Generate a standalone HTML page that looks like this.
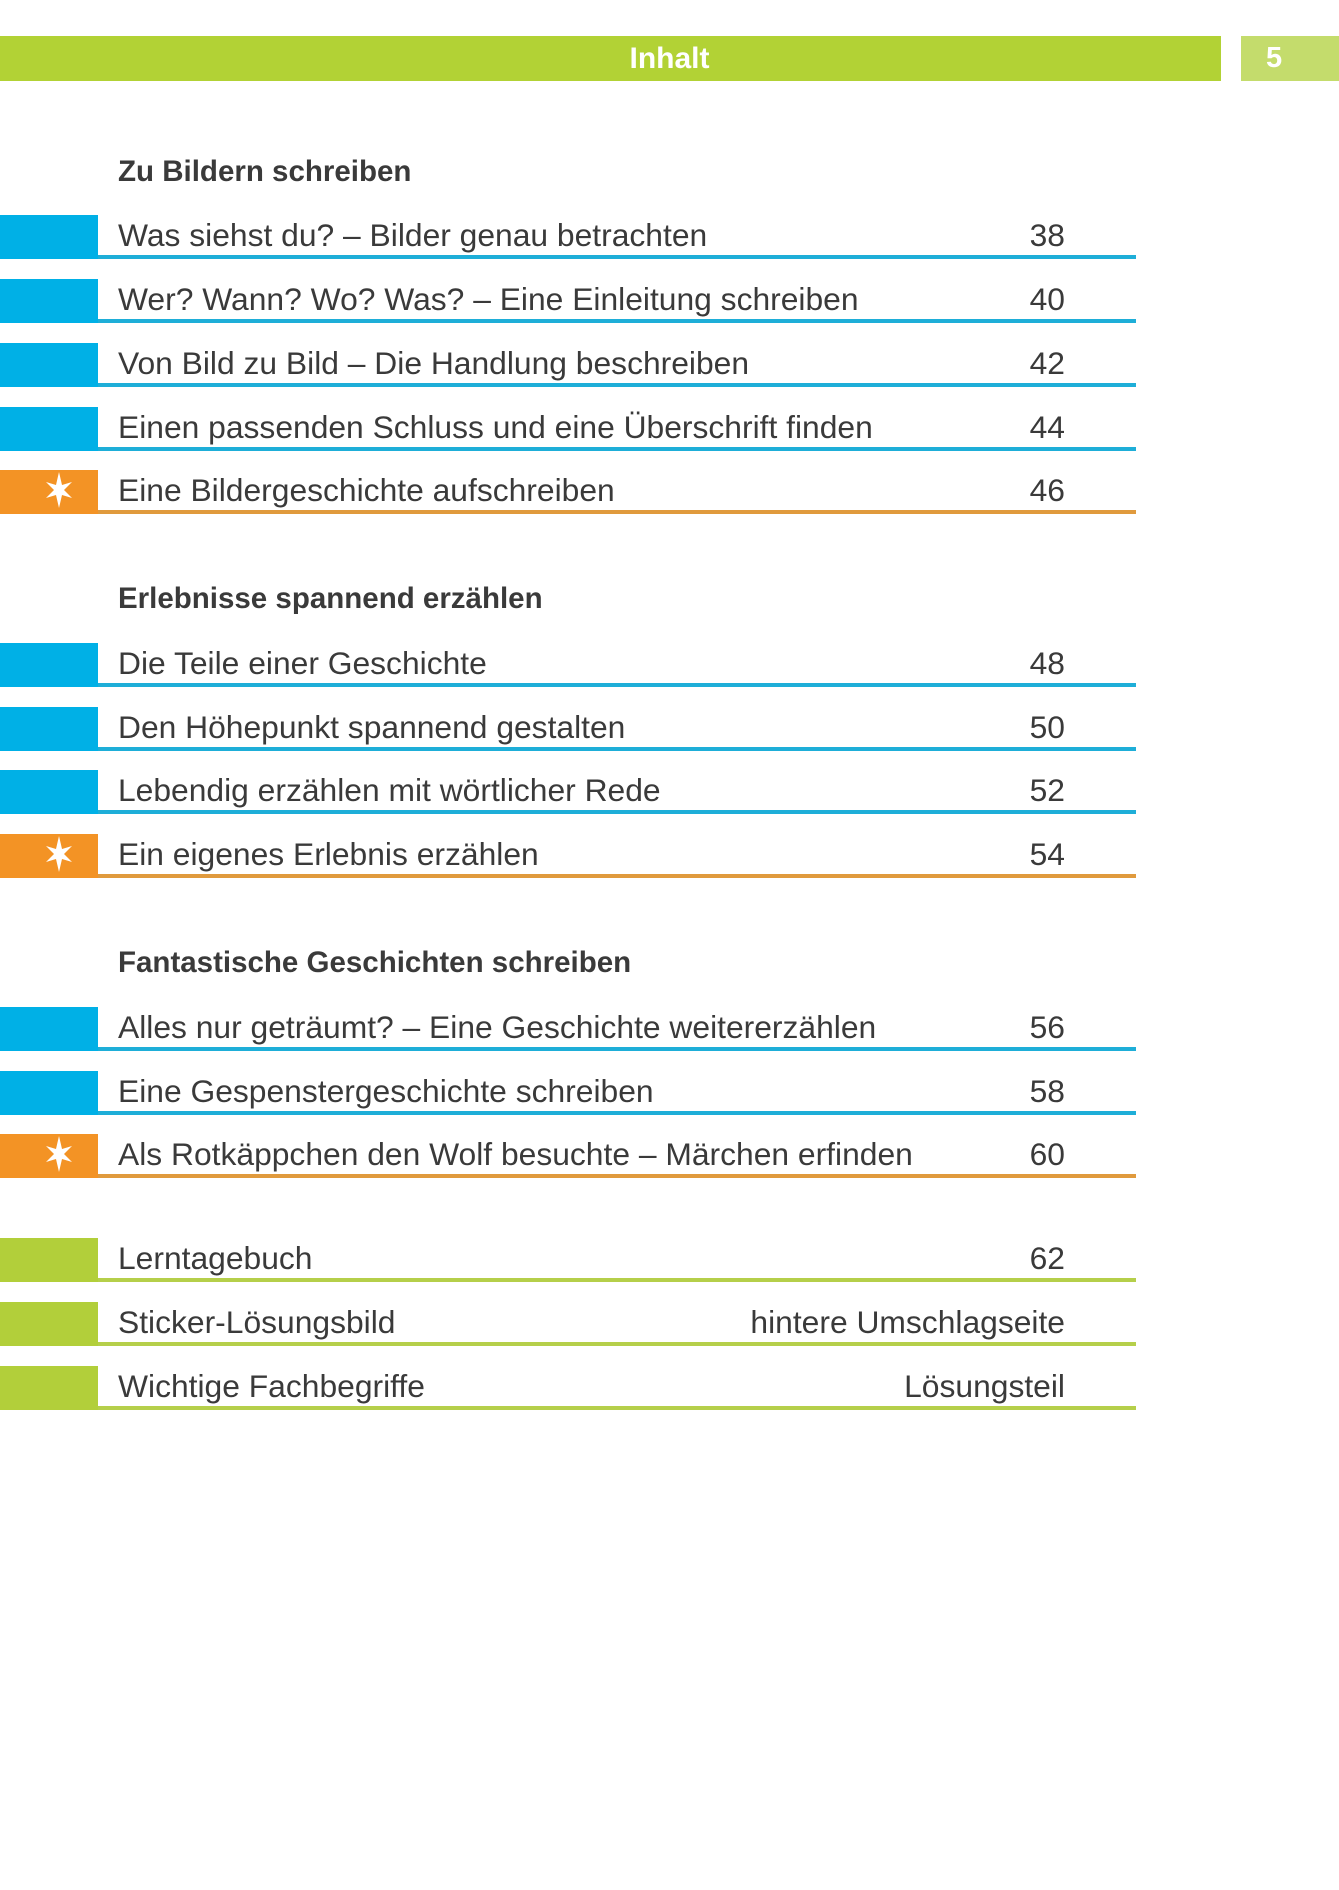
<!DOCTYPE html>
<html><head><meta charset="utf-8"><style>
body{margin:0;width:1339px;height:1890px;background:#fff;position:relative;overflow:hidden;font-family:"Liberation Sans",sans-serif;color:#3a3a3a}
.a{position:absolute}
.t{position:absolute;left:118px;font-size:31.8px;line-height:34px;white-space:nowrap}
.n{position:absolute;right:274px;font-size:31.8px;line-height:34px;white-space:nowrap}
.h{position:absolute;left:118px;font-size:29.5px;font-weight:bold;line-height:34px;white-space:nowrap}
</style></head><body>
<div class="a" style="left:0;top:36px;width:1221px;height:45px;background:#b2d235"></div>
<div class="a" style="left:0;top:36px;width:1339px;height:45px;text-align:center;color:#fff;font-weight:bold;font-size:30px;line-height:45px">Inhalt</div>
<div class="a" style="left:1241px;top:36px;width:98px;height:45px;background:#c4dc6c;color:#fff;font-weight:bold;font-size:29px;line-height:45px;text-indent:25px">5</div>
<div id="c"></div>
<script>
var rows=[
["h",172,"Zu Bildern schreiben"],
["b",235,"Was siehst du? – Bilder genau betrachten","38"],
["b",299,"Wer? Wann? Wo? Was? – Eine Einleitung schreiben","40"],
["b",363,"Von Bild zu Bild – Die Handlung beschreiben","42"],
["b",427,"Einen passenden Schluss und eine Überschrift finden","44"],
["o",490,"Eine Bildergeschichte aufschreiben","46"],
["h",599,"Erlebnisse spannend erzählen"],
["b",663,"Die Teile einer Geschichte","48"],
["b",727,"Den Höhepunkt spannend gestalten","50"],
["b",790,"Lebendig erzählen mit wörtlicher Rede","52"],
["o",854,"Ein eigenes Erlebnis erzählen","54"],
["h",963,"Fantastische Geschichten schreiben"],
["b",1027,"Alles nur geträumt? – Eine Geschichte weitererzählen","56"],
["b",1091,"Eine Gespenstergeschichte schreiben","58"],
["o",1154,"Als Rotkäppchen den Wolf besuchte – Märchen erfinden","60"],
["g",1258,"Lerntagebuch","62"],
["g",1322,"Sticker-Lösungsbild","hintere Umschlagseite"],
["g",1386,"Wichtige Fachbegriffe","Lösungsteil"]];
var col={b:["#00b0e6","#1eaed8"],o:["#f39325","#e09a3d"],g:["#b2cf3a","#b5cf4a"]};
var h="";
rows.forEach(function(r){
 var y=r[1];
 if(r[0]=="h"){h+='<div class="h" style="top:'+(y-17)+'px">'+r[2]+'</div>';return;}
 var c=col[r[0]];
 h+='<div class="a" style="left:0;top:'+(y-20)+'px;width:98px;height:44px;background:'+c[0]+'"></div>';
 h+='<div class="a" style="left:98px;top:'+(y+20)+'px;width:1038px;height:4px;background:'+c[1]+'"></div>';
 if(r[0]=="o")h+='<svg class="a" style="left:39px;top:'+(y-20)+'px" width="40" height="40" viewBox="-20 -20 40 40"><polygon fill="#fff" points="0,-18 3,-5 13,-8 5,0 13,8 3,5 0,18 -3,5 -13,8 -5,0 -13,-8 -3,-5"/></svg>';
 h+='<div class="t" style="top:'+(y-17)+'px">'+r[2]+'</div>';
 h+='<div class="n" style="top:'+(y-17)+'px">'+r[3]+'</div>';
});
document.getElementById("c").innerHTML=h;
</script>
</body></html>
